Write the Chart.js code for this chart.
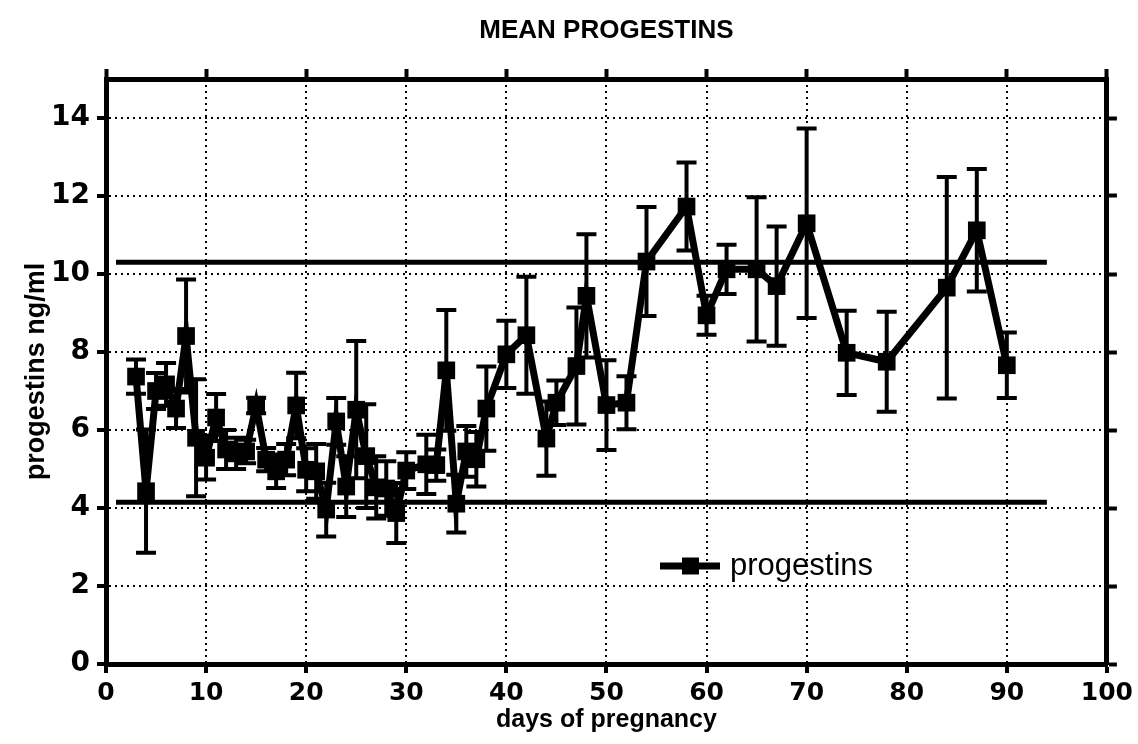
<!DOCTYPE html>
<html>
<head>
<meta charset="utf-8">
<title>Mean progestins</title>
<script src="https://cdn.jsdelivr.net/npm/chart.js@4.4.1/dist/chart.umd.min.js"></script>
<style>
  html, body { margin: 0; padding: 0; background: #fff; }
</style>
</head>
<body>
<canvas id="chart" width="1138" height="744"></canvas>
<script>
// days of pregnancy sampled
const days = [3, 4, 5, 6, 7, 8, 9, 10, 11, 12, 13, 14, 15, 16, 17, 18, 19, 20, 21, 22,
  23, 24, 25, 26, 27, 28, 29, 30, 32, 33, 34, 35, 36, 37, 38, 40, 42, 44, 45, 47,
  48, 50, 52, 54, 58, 60, 62, 65, 67, 70, 74, 78, 84, 87, 90];

// mean progestins, ng/ml
const progestins = [7.37, 4.43, 7.0, 7.17, 6.55, 8.41, 5.8, 5.29, 6.32, 5.5, 5.4, 5.45, 6.63, 5.24, 4.94, 5.24, 6.63, 4.98, 4.94, 3.96,
  6.22, 4.55, 6.52, 5.33, 4.53, 4.5, 3.87, 4.96, 5.12, 5.1, 7.53, 4.11, 5.45, 5.25, 6.55, 7.94, 8.43, 5.78, 6.7, 7.64,
  9.44, 6.64, 6.7, 10.32, 11.73, 8.94, 10.12, 10.12, 9.69, 11.3, 7.98, 7.75, 9.65, 11.12, 7.66];

// error bar half-lengths
const errors = [0.44, 1.58, 0.46, 0.55, 0.5, 1.45, 1.5, 0.56, 0.6, 0.5, 0.4, 0.3, 0.2, 0.3, 0.43, 0.4, 0.84, 0.55, 0.7, 0.69,
  0.6, 0.78, 1.76, 1.33, 0.8, 0.7, 0.77, 0.47, 0.76, 0.4, 1.55, 0.74, 0.65, 0.7, 1.08, 0.86, 1.5, 0.95, 0.57, 1.5,
  1.58, 1.15, 0.68, 1.4, 1.13, 0.5, 0.63, 1.85, 1.53, 2.43, 1.08, 1.28, 2.84, 1.57, 0.84];

// horizontal reference levels and their extent in days
const refLevels = [4.15, 10.3];
const refSpan = [1, 94];

const xTicks = { min: 0, max: 100, step: 10 };
const yTicks = { min: 0, max: 15, step: 2 };

const tickFont = { family: 'DejaVu Sans', weight: 'bold', size: 25 };

const errorBars = {
  id: 'errorBars',
  afterDatasetsDraw(chart) {
    const meta = chart.getDatasetMeta(0);
    const y = chart.scales.y;
    const ctx = chart.ctx;
    ctx.save();
    ctx.strokeStyle = '#000';
    ctx.lineWidth = 4;
    meta.data.forEach((pt, i) => {
      const top = y.getPixelForValue(progestins[i] + errors[i]);
      const bot = y.getPixelForValue(progestins[i] - errors[i]);
      ctx.beginPath();
      ctx.moveTo(pt.x, top);
      ctx.lineTo(pt.x, bot);
      ctx.moveTo(pt.x - 10, top);
      ctx.lineTo(pt.x + 10, top);
      ctx.moveTo(pt.x - 10, bot);
      ctx.lineTo(pt.x + 10, bot);
      ctx.stroke();
    });
    ctx.restore();
  }
};

// single legend entry placed inside the plot, like the original
const innerLegend = {
  id: 'innerLegend',
  afterDraw(chart) {
    const { ctx, chartArea } = chart;
    const x = chartArea.left + 554;
    const y = chartArea.top + 487;
    ctx.save();
    ctx.strokeStyle = '#000';
    ctx.lineWidth = 7;
    ctx.beginPath();
    ctx.moveTo(x, y);
    ctx.lineTo(x + 60, y);
    ctx.stroke();
    ctx.fillStyle = '#000';
    ctx.fillRect(x + 22, y - 8.5, 17, 17);
    ctx.font = '31px "Liberation Sans"';
    ctx.textBaseline = 'middle';
    ctx.fillText(chart.data.datasets[0].label, x + 70, y);
    ctx.restore();
  }
};

const refDatasets = refLevels.map(level => ({
  label: 'ref',
  data: refSpan.map(d => ({ x: d, y: level })),
  borderColor: '#000',
  borderWidth: 5,
  pointRadius: 0,
  fill: false
}));

new Chart(document.getElementById('chart'), {
  type: 'line',
  data: {
    datasets: [{
      label: 'progestins',
      data: days.map((d, i) => ({ x: d, y: progestins[i] })),
      borderColor: '#000',
      backgroundColor: '#000',
      borderWidth: 7,
      pointStyle: 'rect',
      pointRadius: 12.5,
      pointBorderWidth: 0,
      tension: 0
    }, ...refDatasets]
  },
  options: {
    responsive: false,
    animation: false,
    layout: { padding: 0 },
    plugins: {
      legend: { display: false },
      tooltip: { enabled: false }
    },
    scales: {
      x: {
        type: 'linear', position: 'bottom',
        min: xTicks.min, max: xTicks.max,
        afterFit(s) { s.height = 80; },
        ticks: { stepSize: xTicks.step, color: '#000', padding: 5, font: tickFont },
        grid: { color: '#000', lineWidth: 2, tickLength: 9, tickWidth: 4, tickColor: '#000' },
        border: { color: '#000', width: 5, dash: [2, 4] },
        title: {
          display: true, text: 'days of pregnancy', color: '#000',
          font: { family: 'Liberation Sans', weight: 'bold', size: 25 },
          padding: { top: 0, bottom: 9 }
        }
      },
      x2: {
        type: 'linear', position: 'top',
        min: xTicks.min, max: xTicks.max,
        afterFit(s) { s.height = 79; },
        ticks: { stepSize: xTicks.step, display: false },
        grid: { drawOnChartArea: false, tickLength: 10, tickWidth: 4, tickColor: '#000' },
        border: { color: '#000', width: 5 },
        title: {
          display: true, text: 'MEAN PROGESTINS', color: '#000',
          font: { family: 'Liberation Sans', weight: 'bold', size: 26 },
          padding: { top: 15, bottom: 0 }
        }
      },
      y: {
        type: 'linear', position: 'left',
        min: yTicks.min, max: yTicks.max,
        afterFit(s) { s.width = 106; },
        afterBuildTicks(s) { s.ticks = s.ticks.filter(t => t.value % yTicks.step === 0); },
        ticks: { stepSize: yTicks.step, color: '#000', padding: 7, font: { ...tickFont, size: 28 } },
        grid: { color: '#000', lineWidth: 2, tickLength: 9, tickWidth: 4, tickColor: '#000' },
        border: { color: '#000', width: 5, dash: [2, 4] },
        title: {
          display: true, text: 'progestins ng/ml', color: '#000',
          font: { family: 'Liberation Sans', weight: 'bold', size: 27 },
          padding: { top: 20, bottom: 0 }
        }
      },
      y2: {
        type: 'linear', position: 'right',
        min: yTicks.min, max: yTicks.max,
        afterFit(s) { s.width = 26; },
        afterBuildTicks(s) { s.ticks = s.ticks.filter(t => t.value % yTicks.step === 0); },
        ticks: { stepSize: yTicks.step, display: false },
        grid: { drawOnChartArea: false, tickLength: 10, tickWidth: 4, tickColor: '#000' },
        border: { color: '#000', width: 5 }
      }
    }
  },
  plugins: [errorBars, innerLegend]
});
</script>
</body>
</html>
